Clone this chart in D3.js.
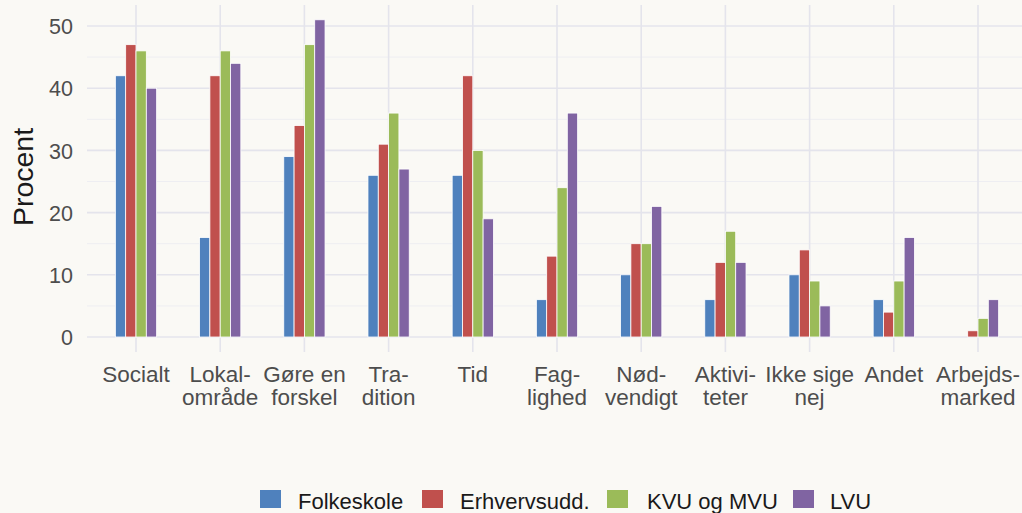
<!DOCTYPE html>
<html><head><meta charset="utf-8">
<script src="https://cdn.jsdelivr.net/npm/d3@7"></script>
<style>body{margin:0;background:#faf9f5;}svg{display:block;}</style>
</head><body>
<script>
const categories = ["Socialt","Lokal-\nområde","Gøre en\nforskel","Tra-\ndition","Tid","Fag-\nlighed","Nød-\nvendigt","Aktivi-\nteter","Ikke sige\nnej","Andet","Arbejds-\nmarked"];
const seriesNames = ["Folkeskole","Erhvervsudd.","KVU og MVU","LVU"];
const folkeskole = [42,16,29,26,26,6,10,6,10,6,null];
const erhvervsudd = [47,42,34,31,42,13,15,12,14,4,1];
const kvuMvu = [46,46,47,36,30,24,15,17,9,9,3];
const lvu = [40,44,51,27,19,36,21,12,5,16,6];
const yTicks = [0,10,20,30,40,50];
const colors = ["#4f81bd","#c0504d","#9bbb59","#8064a2"];
const seriesValues = [folkeskole, erhvervsudd, kvuMvu, lvu];

const W = 1022, H = 513;
const FONT = "Liberation Sans, Arial, sans-serif";
const svg = d3.select("body").append("svg").attr("width", W).attr("height", H);
svg.append("rect").attr("width", W).attr("height", H).attr("fill", "#faf9f5");

const panel = {left: 87, right: 1022, top: 5, bottom: 352};
const y = d3.scaleLinear().domain([0, 50]).range([337, 26]);
const x = d3.scaleBand().domain(categories).range([93.9, 1020.1]).paddingInner(0).paddingOuter(0);
const groupW = x.bandwidth() * 0.49;
const xs = d3.scaleBand().domain(seriesNames).range([0, groupW]);

// grid
const g = svg.append("g");
const minor = [5,15,25,35,45];
g.selectAll(".minor").data(minor).join("line")
  .attr("x1", panel.left).attr("x2", panel.right)
  .attr("y1", d => y(d)).attr("y2", d => y(d))
  .attr("stroke", "#eeeef2").attr("stroke-width", 1);
g.selectAll(".major").data(yTicks).join("line")
  .attr("x1", panel.left).attr("x2", panel.right)
  .attr("y1", d => y(d)).attr("y2", d => y(d))
  .attr("stroke", "#e4e4ec").attr("stroke-width", 1.6);
g.selectAll(".vgrid").data(categories).join("line")
  .attr("x1", d => x(d) + x.bandwidth()/2).attr("x2", d => x(d) + x.bandwidth()/2)
  .attr("y1", panel.top).attr("y2", panel.bottom)
  .attr("stroke", "#e4e4ec").attr("stroke-width", 1.6);

// bars
const barData = [];
categories.forEach((c, i) => {
  seriesNames.forEach((s, j) => {
    const v = seriesValues[j][i];
    if (v !== null && v !== undefined) barData.push({c, s, v, j});
  });
});
svg.append("g").selectAll("rect").data(barData).join("rect")
  .attr("x", d => x(d.c) + x.bandwidth()/2 - groupW/2 + xs(d.s))
  .attr("width", xs.bandwidth())
  .attr("y", d => y(d.v))
  .attr("height", d => y(0) - y(d.v))
  .attr("fill", d => colors[d.j])
  .attr("stroke", "#ffffff").attr("stroke-width", 0.8);

// y axis
const yAxis = d3.axisLeft(y).tickValues(yTicks).tickSize(0).tickPadding(0);
const ya = svg.append("g").attr("transform", "translate(73,0)").call(yAxis);
ya.select(".domain").remove();
ya.selectAll("text").attr("font-family", FONT)
  .attr("font-size", 21.5).attr("fill", "#4d4d4d").attr("dy", "0.36em").attr("x", 0);

// x axis
const xAxis = d3.axisBottom(x).tickSize(0).tickFormat("");
const xa = svg.append("g").attr("transform", "translate(0,352)").call(xAxis);
xa.select(".domain").remove();
xa.selectAll(".tick").each(function(d) {
  const t = d3.select(this).append("text")
    .attr("text-anchor", "middle")
    .attr("font-family", FONT)
    .attr("font-size", 22.5).attr("fill", "#4d4d4d");
  d.split("\n").forEach((line, k) => {
    t.append("tspan").attr("x", 0).attr("y", 30 + k * 23).text(line);
  });
});

// y title
svg.append("text").attr("transform", "translate(33,177) rotate(-90)")
  .attr("text-anchor", "middle")
  .attr("font-family", FONT)
  .attr("font-size", 28.5).attr("fill", "#1a1a1a").text("Procent");

// legend
const legBoxX = [260, 422, 607, 793];
const legTextX = [298, 460, 647, 830];
const leg = svg.append("g");
seriesNames.forEach((s, j) => {
  leg.append("rect").attr("x", legBoxX[j]).attr("y", 490).attr("width", 21).attr("height", 18).attr("fill", colors[j]);
  leg.append("text").attr("x", legTextX[j]).attr("y", 509)
    .attr("font-family", FONT)
    .attr("font-size", 22).attr("fill", "#1a1a1a").text(s);
});
</script>
</body></html>
